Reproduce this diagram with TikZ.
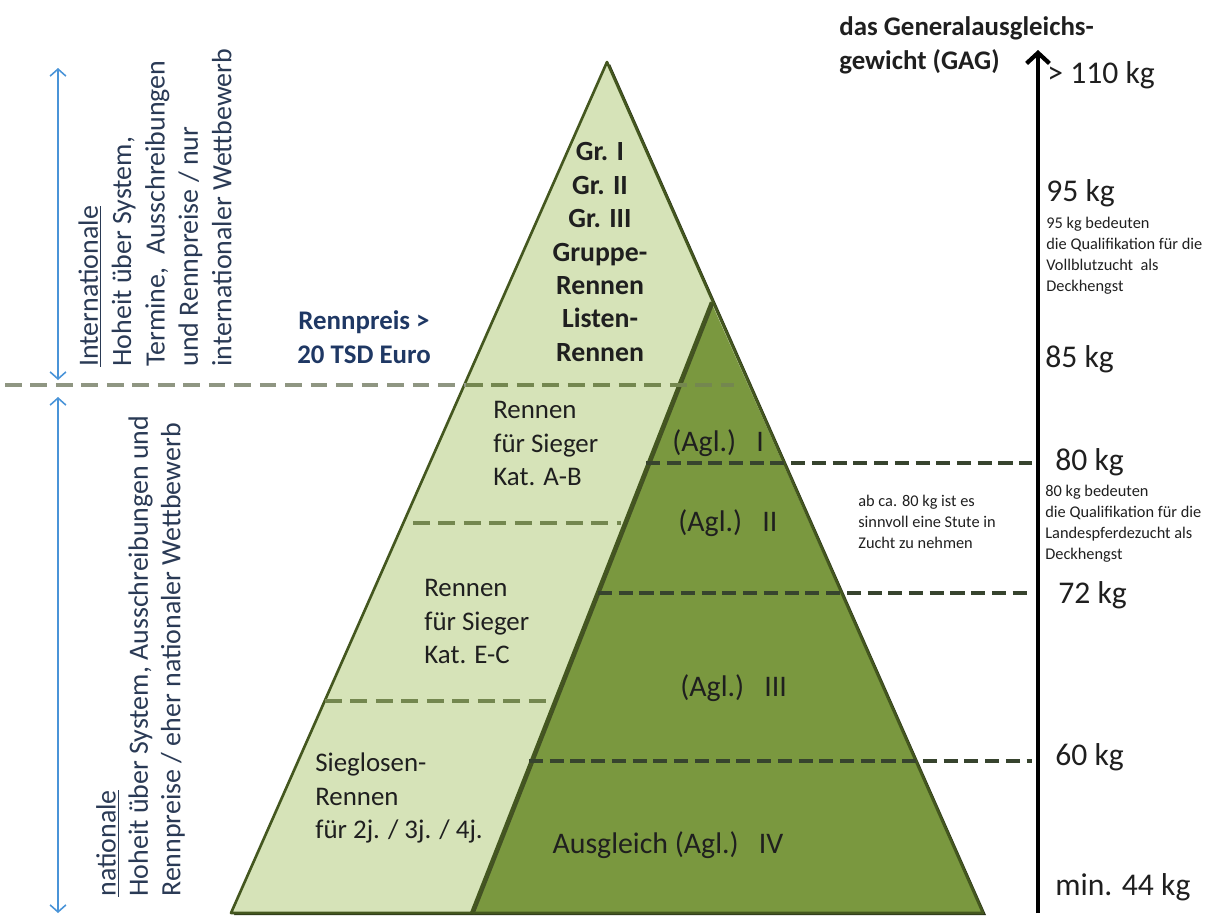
\documentclass[tikz,border=0pt]{standalone}
\usepackage{fontspec}
\setmainfont{Carlito}
\usetikzlibrary{arrows.meta}
\definecolor{lightg}{HTML}{D6E3B8}
\definecolor{darkg}{HTML}{7A983F}
\definecolor{edgeg}{HTML}{44571F}
\definecolor{shadowg}{HTML}{2B3419}
\definecolor{navy}{HTML}{1F3864}
\definecolor{slate}{HTML}{2A3A55}
\definecolor{dgrey}{HTML}{8F9682}
\definecolor{dolive}{HTML}{74874F}
\definecolor{ddark}{HTML}{37442E}
\definecolor{skyb}{HTML}{4A94D8}
\tikzset{
  main/.style={font=\fontsize{15.3}{19}\selectfont, inner sep=0pt, text=black!88},
  mainb/.style={inner sep=0pt, text=black!88, font=\fontsize{15.8}{19}\selectfont\bfseries},
  agl/.style={font=\fontsize{17}{20}\selectfont, inner sep=0pt, text=black!88},
  kg/.style={font=\fontsize{18}{21}\selectfont, inner sep=0pt, anchor=west, text=black!88},
  small/.style={font=\fontsize{9.3}{11.9}\selectfont, inner sep=0pt, anchor=west, align=left, text=black!88},
  lightdash/.style={dolive, line width=2.8pt, dash pattern=on 9.5pt off 5pt},
  darkdash/.style={ddark, line width=2.8pt, dash pattern=on 8pt off 3.8pt},
  sidetext/.style={inner sep=0pt, text=slate, rotate=90, anchor=west, align=left},
  bluearrow/.style={skyb, line width=0.9pt, {Straight Barb[length=4pt,width=9pt]}-{Straight Barb[length=4pt,width=9pt]}},
}
\begin{document}
\begin{tikzpicture}[x=0.02cm,y=-0.02cm]
\useasboundingbox (0,0) rectangle (1214,916);
% pyramid geometry
\coordinate (apex) at (607,62);
\coordinate (bl) at (231,913);
\coordinate (br) at (983,913);
\coordinate (dap) at (711,302);
\coordinate (dbase) at (471,913);
\fill[shadowg] ([shift={(3,2)}]apex) -- ([shift={(3,2)}]br) -- ([shift={(3,2)}]bl) -- cycle;
\fill[lightg] (apex) -- (bl) -- (br) -- cycle;
\fill[darkg] (dap) -- (dbase) -- (br) -- cycle;
\draw[shadowg!70!darkg, line width=1.6pt] ([shift={(2,1)}]dap) -- ([shift={(2,1)}]dbase);
\draw[edgeg, line width=1.3pt] (dap) -- (dbase);
\draw[edgeg, line width=1.5pt, line join=round] (apex) -- (bl) -- (br) -- cycle;
% dashed lines
\draw[dgrey, line width=2.8pt, dash pattern=on 9.5pt off 5pt] (5,385) -- (466,385);
\draw[lightdash] (466,385) -- (734,385);
\draw[lightdash] (413,523) -- (621,523);
\draw[lightdash] (325,701) -- (552,701);
\draw[darkdash] (646,463) -- (1032,463);
\draw[darkdash] (598,593) -- (1032,593);
\draw[darkdash] (529,761) -- (1032,761);
% axis
\coordinate (axb) at (1038,913);
\coordinate (axt) at (1038,50);
\draw[line width=2.4pt, -{Straight Barb[length=6pt,width=13pt]}] (axb) -- (axt);
% blue arrows
\coordinate (ia) at (58,68);
\coordinate (ib) at (58,380);
\coordinate (na) at (58,397);
\coordinate (nb) at (58,913);
\draw[bluearrow] (ia) -- (ib);
\draw[bluearrow] (na) -- (nb);
% left rotated texts
\node[sidetext, font=\fontsize{15.9}{19}\selectfont] (intl) at (155,367)
  {\underline{Internationale}\\Hoheit über System,\\Termine,\ \ Ausschreibungen\\und Rennpreise / nur\\internationaler Wettbewerb};
\node[sidetext, font=\fontsize{15.9}{18.4}\selectfont] (natl) at (140.5,897)
  {\underline{nationale}\\Hoheit über System, Ausschreibungen und\\Rennpreise / eher nationaler Wettbewerb};
% pyramid texts
\node[mainb, align=center] (gr) at (600,252) {Gr. I\\Gr. II\\Gr. III\\Gruppe-\\Rennen\\Listen-\\Rennen};
\node[mainb, align=center, text=navy, font=\fontsize{15.3}{19}\selectfont\bfseries] (preis) at (364,337) {Rennpreis >\\20 TSD Euro};
\node[main, anchor=west, align=left] (ab) at (493,443.5) {Rennen\\für Sieger\\Kat. A-B};
\node[agl, anchor=west] (agl1) at (672,443) {(Agl.)\ \ \ I};
\node[agl, anchor=west] (agl2) at (678,523) {(Agl.)\ \ \ II};
\node[main, anchor=west, align=left] (ec) at (424,621.5) {Rennen\\für Sieger\\Kat. E-C};
\node[agl, anchor=west] (agl3) at (680,688) {(Agl.)\ \ \ III};
\node[main, anchor=west, align=left] (sieg) at (315,798) {Sieglosen-\\Rennen\\für 2j. / 3j. / 4j.};
\node[agl] (agl4) at (668,845) {Ausgleich (Agl.)\ \ \ IV};
% right side
\node[inner sep=0pt, text=black!88, font=\fontsize{15.3}{19.3}\selectfont\bfseries, anchor=west, align=left] (head) at (839,45) {das Generalausgleichs-\\gewicht (GAG)};
\node[kg] (k110) at (1047,75) {> 110 kg};
\node[kg] (k95) at (1046,193) {95 kg};
\node[small] (n95) at (1046,255.5) {95 kg bedeuten\\die Qualifikation für die\\Vollblutzucht\ \ als\\Deckhengst};
\node[kg] (k85) at (1045,359) {85 kg};
\node[kg] (k80) at (1055,462) {80 kg};
\node[small] (n80) at (1045,523.5) {80 kg bedeuten\\die Qualifikation für die\\Landespferdezucht als\\Deckhengst};
\node[kg] (k72) at (1058,595) {72 kg};
\node[small] (note) at (858,522) {ab ca. 80 kg ist es\\sinnvoll eine Stute in\\Zucht zu nehmen};
\node[kg] (k60) at (1055,757) {60 kg};
\node[kg] (k44) at (1055,887) {min. 44 kg};
\end{tikzpicture}
\end{document}
